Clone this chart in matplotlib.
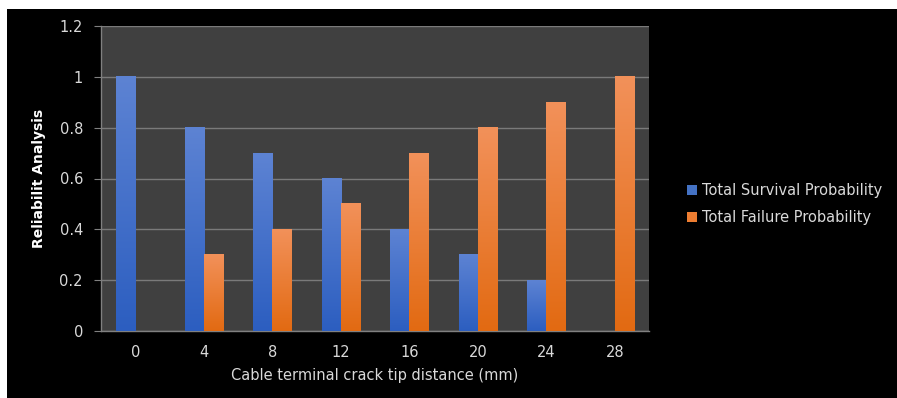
import numpy as np
import matplotlib.pyplot as plt
from matplotlib.patches import Rectangle, Patch
from matplotlib.colors import LinearSegmentedColormap

distances = ["0", "4", "8", "12", "16", "20", "24", "28"]
survival = [1.0, 0.8, 0.7, 0.6, 0.4, 0.3, 0.2, 0.0]
failure = [0.0, 0.3, 0.4, 0.5, 0.7, 0.8, 0.9, 1.0]
yticks = [0, 0.2, 0.4, 0.6, 0.8, 1.0, 1.2]
ytick_labels = ["0", "0.2", "0.4", "0.6", "0.8", "1", "1.2"]

W, H = 897, 398
fig = plt.figure(figsize=(W/100, H/100), dpi=100)
fig.patch.set_facecolor("white")
# black chart area with a thin white margin top/left
fig.patches.append(Rectangle((7/W, 0), 1 - 7/W, 1 - 9/H, transform=fig.transFigure,
                             facecolor="black", edgecolor="none", zorder=-10))

ax = fig.add_axes([101/W, (H-331)/H, (649-101)/W, (331-26)/H])
ax.set_facecolor("#404040")

blue_cm = LinearSegmentedColormap.from_list("b", ["#2c5ec0", "#5d83d3"])
orange_cm = LinearSegmentedColormap.from_list("o", ["#e26a12", "#f2915a"])
grad = np.linspace(0, 1, 256).reshape(-1, 1)

bw = 0.28
x = np.arange(len(distances))
for xi, s, f in zip(x, survival, failure):
    for val, off, cm in ((s, -bw/2, blue_cm), (f, bw/2, orange_cm)):
        if val <= 0:
            continue
        x0 = xi + off - bw/2
        ax.imshow(grad, cmap=cm, origin="lower", aspect="auto",
                  extent=(x0, x0 + bw, 0, val), zorder=3, interpolation="bilinear")

ax.set_xlim(-0.5, len(distances) - 0.5)
ax.set_ylim(0, 1.2)
ax.set_yticks(yticks)
ax.set_yticklabels(ytick_labels)
ax.set_xticks(x)
ax.set_xticklabels(distances)
ax.yaxis.grid(True, color="#7a7a7a", linewidth=1.0, zorder=0)
ax.set_axisbelow(True)

for side in ("top", "right"):
    ax.spines[side].set_visible(False)
for side in ("left", "bottom"):
    ax.spines[side].set_color("#808080")
    ax.spines[side].set_linewidth(1.0)
ax.tick_params(axis="y", colors="#808080", labelcolor="#d9d9d9", labelsize=10.5,
               length=5, pad=8)
ax.tick_params(axis="x", length=0, labelcolor="#d9d9d9", labelsize=10.5, pad=10)

ax.set_xlabel("Cable terminal crack tip distance (mm)", color="#d9d9d9", fontsize=10.5,
              labelpad=6)
ax.set_ylabel("Reliabilit Analysis", color="white", fontsize=10, fontweight="bold",
              family=["Liberation Sans Narrow", "DejaVu Sans"], labelpad=10)

handles = [Patch(facecolor="#4472c4", edgecolor="none"),
           Patch(facecolor="#ed7d31", edgecolor="none")]
leg = fig.legend(handles, ["Total Survival Probability", "Total Failure Probability"],
                 loc="center left", bbox_to_anchor=(674/W, 1 - 204/H), frameon=False,
                 fontsize=10.5, labelcolor="#d9d9d9", handlelength=0.7, handleheight=0.7,
                 handletextpad=0.3, labelspacing=0.85)

fig.savefig("out.png", dpi=100, facecolor=fig.get_facecolor())
